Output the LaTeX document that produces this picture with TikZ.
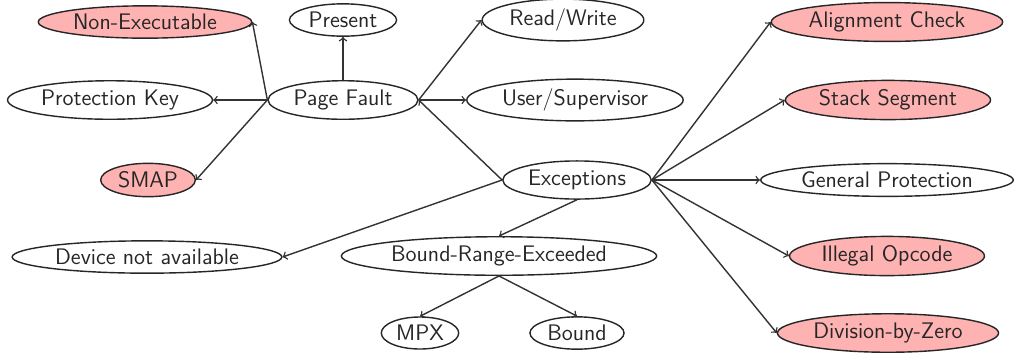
\documentclass[tikz,border=0pt]{standalone}
\usetikzlibrary{shapes.geometric}
\begin{document}
\begin{tikzpicture}[x=0.02cm,y=-0.02cm,
  ev/.style={ellipse,draw=black!85,thick,inner sep=2pt,font=\sffamily\fontsize{12.8}{15}\selectfont,text=black!85},
  hot/.style={ev,fill=red!30},
  link/.style={->,draw=black!80,thick}]
\useasboundingbox (0,0) rectangle (1022,353);
\node[hot] (ne) at (145,22) {Non-Executable};
\node[ev] (pr) at (343,20) {Present};
\node[ev] (rw) at (563,20) {Read/Write};
\node[hot] (ac) at (887,22) {Alignment Check};
\node[ev] (pk) at (110,100) {Protection Key};
\node[ev] (pf) at (343,100) {Page Fault};
\node[ev] (us) at (575,100) {User/Supervisor};
\node[hot] (ss) at (888,100) {Stack Segment};
\node[hot] (smap) at (148,180) {SMAP};
\node[ev] (ex) at (577,180) {Exceptions};
\node[ev] (gp) at (887,180) {General Protection};
\node[ev] (dna) at (147,257) {Device not available};
\node[ev] (bre) at (499,256) {Bound-Range-Exceeded};
\node[hot] (io) at (887,256) {Illegal Opcode};
\node[ev] (mpx) at (420,333) {MPX};
\node[ev] (bd) at (577,333) {Bound};
\node[hot] (dz) at (888,333) {Division-by-Zero};
\draw[link] (pf.west) -- (ne.east);
\draw[link] (pf.west) -- (pk.east);
\draw[link] (pf.west) -- (smap.east);
\draw[link] (pf.north) -- (pr.south);
\draw[link] (pf.east) -- (rw.west);
\draw[link] (pf.east) -- (us.west);
\draw[link] (ex.west) -- (pf.east);
\draw[link] (ex.west) -- (dna.east);
\draw[link] (ex.south) -- (bre.north);
\draw[link] (bre.south) -- (mpx.north);
\draw[link] (bre.south) -- (bd.north);
\draw[link] (ex.east) -- (ac.west);
\draw[link] (ex.east) -- (ss.west);
\draw[link] (ex.east) -- (gp.west);
\draw[link] (ex.east) -- (io.west);
\draw[link] (ex.east) -- (dz.west);
\end{tikzpicture}
\end{document}
